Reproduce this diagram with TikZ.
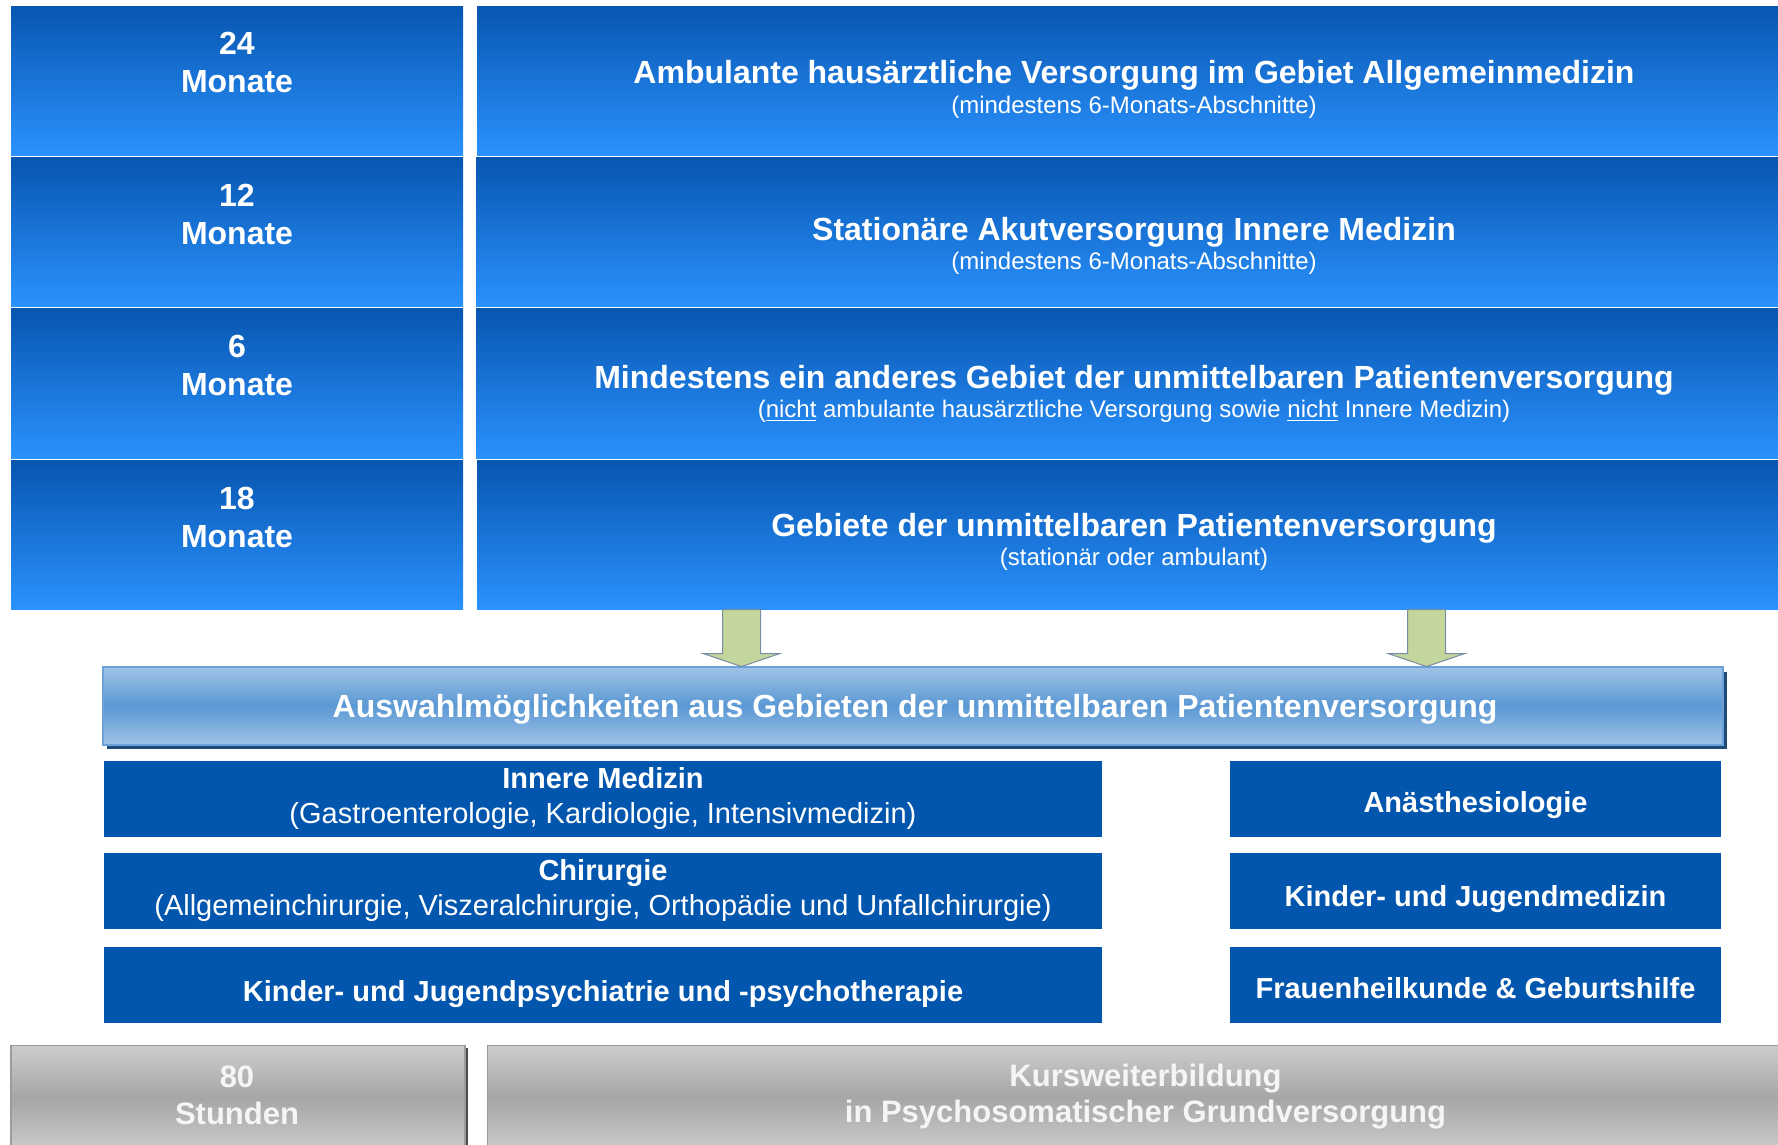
\documentclass[tikz,border=0pt]{standalone}
\usepackage{fontspec}
\setmainfont{Liberation Sans}
\definecolor{topdark}{RGB}{8,86,176}
\definecolor{toplight}{RGB}{42,146,254}
\definecolor{boxblue}{RGB}{2,86,173}
\definecolor{barlight}{RGB}{160,195,230}
\definecolor{barmid}{RGB}{90,152,212}
\definecolor{barborder}{RGB}{108,160,217}
\definecolor{barshadow}{RGB}{30,75,120}
\definecolor{arrowfill}{RGB}{195,214,155}
\definecolor{arrowdraw}{RGB}{120,140,165}
\definecolor{greylight}{RGB}{204,204,204}
\definecolor{greymid}{RGB}{166,166,166}
\definecolor{greyborder}{RGB}{155,155,155}
\definecolor{greytext}{RGB}{245,245,245}
\newcommand\myul[1]{\setbox0\hbox{#1}\rlap{\rule[-3.6pt]{\wd0}{1.5pt}}\box0\relax}
\begin{document}
\begin{tikzpicture}[x=1pt,y=-1pt,
  every node/.style={inner sep=0pt,outer sep=0pt},
  topbox/.style={rectangle,anchor=north west,top color=topdark,bottom color=toplight},
  lowbox/.style={rectangle,anchor=north west,fill=boxblue},
  greybox/.style={rectangle,anchor=north west,draw=greyborder,line width=1.5pt,top color=greylight,bottom color=greylight,middle color=greymid},
  bar/.style={rectangle,anchor=north west,draw=barborder,line width=2pt,top color=barlight,bottom color=barlight,middle color=barmid},
  blockarrow/.style={fill=arrowfill,draw=arrowdraw,line width=1pt,line join=miter},
  bigtxt/.style={anchor=base,text=white,font=\fontsize{32}{38}\selectfont\bfseries},
  subtxt/.style={anchor=base,text=white,font=\fontsize{24}{29}\selectfont},
  lowtxt/.style={anchor=base,text=white,font=\fontsize{29}{34}\selectfont\bfseries},
  lowsub/.style={anchor=base,text=white,font=\fontsize{29}{34}\selectfont},
  greytxt/.style={anchor=base,text=greytext,font=\fontsize{31}{37}\selectfont\bfseries}
]
\path[use as bounding box,clip] (0,0) rectangle (1778,1144);
\fill[white] (0,0) rectangle (1778,1144);

% top rows
\node[topbox,minimum width=452,minimum height=149] (l1) at (11,6) {};
\node[topbox,minimum width=1301,minimum height=149] (r1) at (477,6) {};
\node[topbox,minimum width=452,minimum height=148.5] (l2) at (11,157.5) {};
\node[topbox,minimum width=1302,minimum height=148.5] (r2) at (476,157.5) {};
\node[topbox,minimum width=452,minimum height=149.5] (l3) at (11,308.5) {};
\node[topbox,minimum width=1302,minimum height=149.5] (r3) at (476,308.5) {};
\node[topbox,minimum width=452,minimum height=148.5] (l4) at (11,460.5) {};
\node[topbox,minimum width=1301,minimum height=148.5] (r4) at (477,460.5) {};

\node[bigtxt] (l1a) at (237,54.5) {24};
\node[bigtxt] (l1b) at (237,92) {Monate};
\node[bigtxt] (l2a) at (237,206) {12};
\node[bigtxt] (l2b) at (237,244) {Monate};
\node[bigtxt] (l3a) at (237,357) {6};
\node[bigtxt] (l3b) at (237,395) {Monate};
\node[bigtxt] (l4a) at (237,509) {18};
\node[bigtxt] (l4b) at (237,547) {Monate};

\node[bigtxt] (r1a) at (1134,83) {Ambulante hausärztliche Versorgung im Gebiet Allgemeinmedizin};
\node[subtxt] (r1b) at (1134,113) {(mindestens 6-Monats-Abschnitte)};
\node[bigtxt] (r2a) at (1134,240.5) {Stationäre Akutversorgung Innere Medizin};
\node[subtxt] (r2b) at (1134,269.5) {(mindestens 6-Monats-Abschnitte)};
\node[bigtxt] (r3a) at (1134,388) {Mindestens ein anderes Gebiet der unmittelbaren Patientenversorgung};
\node[subtxt] (r3b) at (1134,417.5) {(\myul{nicht} ambulante hausärztliche Versorgung sowie \myul{nicht} Innere Medizin)};
\node[bigtxt] (r4a) at (1134,536.5) {Gebiete der unmittelbaren Patientenversorgung};
\node[subtxt] (r4b) at (1134,565.5) {(stationär oder ambulant)};

% selection bar
\fill[barshadow] (107,672) rectangle (1727,749);
\node[bar,minimum width=1620,minimum height=77.5] (bar) at (103,667) {};
\node[bigtxt] (bart) at (915,717.5) {Auswahlmöglichkeiten aus Gebieten der unmittelbaren Patientenversorgung};

% block arrows
\draw[blockarrow] (722.5,609.5) -- (760.5,609.5) -- (760.5,653.5) -- (780,653.5) -- (741.5,666.5) -- (703,653.5) -- (722.5,653.5) -- cycle;
\draw[blockarrow] (1407.5,609.5) -- (1445.5,609.5) -- (1445.5,653.5) -- (1465,653.5) -- (1426.5,666.5) -- (1388,653.5) -- (1407.5,653.5) -- cycle;

% lower boxes left
\node[lowbox,minimum width=998,minimum height=76] (b1) at (104,761) {};
\node[lowbox,minimum width=998,minimum height=76] (b2) at (104,853) {};
\node[lowbox,minimum width=998,minimum height=76] (b3) at (104,947) {};
\node[lowtxt] (b1a) at (603,788) {Innere Medizin};
\node[lowsub] (b1b) at (603,823) {(Gastroenterologie, Kardiologie, Intensivmedizin)};
\node[lowtxt] (b2a) at (603,880) {Chirurgie};
\node[lowsub] (b2b) at (603,915.5) {(Allgemeinchirurgie, Viszeralchirurgie, Orthopädie und Unfallchirurgie)};
\node[lowtxt] (b3a) at (603,1001) {Kinder- und Jugendpsychiatrie und -psychotherapie};

% lower boxes right
\node[lowbox,minimum width=491,minimum height=76] (c1) at (1230,761) {};
\node[lowbox,minimum width=491,minimum height=76] (c2) at (1230,853) {};
\node[lowbox,minimum width=491,minimum height=76] (c3) at (1230,947) {};
\node[lowtxt] (c1a) at (1475.5,812.5) {Anästhesiologie};
\node[lowtxt] (c2a) at (1475.5,906) {Kinder- und Jugendmedizin};
\node[lowtxt] (c3a) at (1475.5,998.5) {Frauenheilkunde \& Geburtshilfe};

% grey bottom boxes
\fill[black!70] (466,1048) rectangle (468,1150);
\node[greybox,minimum width=454,minimum height=105] (g1) at (11,1045.5) {};
\node[greybox,minimum width=1300,minimum height=105] (g2) at (487.5,1045.5) {};
\node[greytxt] (g1a) at (237,1087.5) {80};
\node[greytxt] (g1b) at (237,1124.5) {Stunden};
\node[greytxt] (g2a) at (1145.5,1086) {Kursweiterbildung};
\node[greytxt] (g2b) at (1145.5,1122) {in Psychosomatischer Grundversorgung};
\end{tikzpicture}
\end{document}
